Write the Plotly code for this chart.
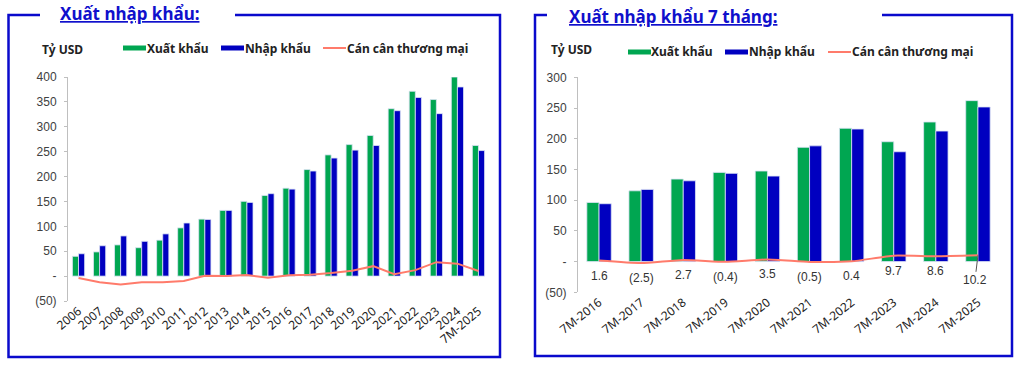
import plotly.graph_objects as go

W, H = 1024, 366
OFF = 0  # body margin removed via post_script

# ---------------- data ----------------
years = ["2006", "2007", "2008", "2009", "2010", "2011", "2012", "2013", "2014", "2015",
         "2016", "2017", "2018", "2019", "2020", "2021", "2022", "2023", "2024", "7M-2025"]
exports_y = [39.8, 48.6, 62.7, 57.1, 72.2, 96.9, 114.5, 132.0, 150.2, 162.0,
             176.6, 214.0, 243.5, 264.2, 282.6, 336.3, 371.3, 354.7, 400.0, 262.4]
imports_y = [44.9, 61.0, 80.7, 69.9, 84.8, 106.7, 113.8, 132.0, 148.0, 165.6,
             174.8, 211.1, 237.2, 253.1, 262.4, 332.3, 358.9, 326.4, 380.0, 252.2]
balance_y = [-4.0, -12.5, -17.0, -12.5, -12.5, -10.0, 0.7, 0.0, 2.0, -3.5,
             1.8, 2.9, 6.3, 11.0, 20.0, 4.0, 12.0, 28.0, 25.0, 10.2]

periods = ["7M-2016", "7M-2017", "7M-2018", "7M-2019", "7M-2020",
           "7M-2021", "7M-2022", "7M-2023", "7M-2024", "7M-2025"]
exports_7m = [96.2, 115.2, 134.3, 145.2, 147.4, 186.0, 217.0, 195.1, 227.2, 262.0]
imports_7m = [94.2, 117.5, 131.5, 143.6, 139.2, 188.4, 215.8, 178.8, 212.5, 251.7]
balance_7m = [1.6, -2.5, 2.7, -0.4, 3.5, -0.5, 0.4, 9.7, 8.6, 10.2]

left_ticks = [-50, 0, 50, 100, 150, 200, 250, 300, 350, 400]
right_ticks = [-50, 0, 50, 100, 150, 200, 250, 300]

series_names = ["Xuất khẩu", "Nhập khẩu", "Cán cân thương mại"]

GREEN = "#00A651"
BLUE = "#0000C0"
SALMON = "#FF7B6B"
FRAME = "#0A0ACC"
AXIS = "#BFBFBF"


def fmt(v):
    if v == 0:
        return "-"
    if v < 0:
        return "(%g)" % abs(v)
    return "%g" % v


def px(x):
    return (x - OFF) / W


def py(y):
    return 1 - (y - OFF) / H


# plot area geometry (screen pixels)
L = dict(x0=68, x1=489, top=77, bot=301, r=(-50, 400))
R = dict(x0=578, x1=999, top=77.3, bot=292.3, r=(-50, 300))


def zero_pos(g):
    lo, hi = g["r"]
    d0, d1 = py(g["bot"]), py(g["top"])
    return d0 + (0 - lo) / (hi - lo) * (d1 - d0)


fig = go.Figure()

bar_line = dict(color="#DCE3F5", width=0.8)

# left chart
fig.add_trace(go.Bar(x=years, y=exports_y, name=series_names[0], marker_color=GREEN,
                     marker_line=bar_line, xaxis="x", yaxis="y"))
fig.add_trace(go.Bar(x=years, y=imports_y, name=series_names[1], marker_color=BLUE,
                     marker_line=bar_line, xaxis="x", yaxis="y"))
fig.add_trace(go.Scatter(x=years, y=balance_y, mode="lines", name=series_names[2],
                         line=dict(color=SALMON, width=2), xaxis="x", yaxis="y"))

# right chart
fig.add_trace(go.Bar(x=periods, y=exports_7m, name=series_names[0], marker_color=GREEN,
                     marker_line=bar_line, xaxis="x2", yaxis="y2"))
fig.add_trace(go.Bar(x=periods, y=imports_7m, name=series_names[1], marker_color=BLUE,
                     marker_line=bar_line, xaxis="x2", yaxis="y2"))
fig.add_trace(go.Scatter(x=periods, y=balance_7m, mode="lines", name=series_names[2],
                         line=dict(color=SALMON, width=2, shape="spline", smoothing=0.5),
                         xaxis="x2", yaxis="y2"))

tickfont = dict(family="Liberation Sans, Arial, sans-serif", size=12, color="#404040")
xfont = dict(family="Noto Sans, Liberation Sans, sans-serif", size=12, color="#222222")

common_y = dict(showgrid=False, zeroline=False, showline=True, linecolor=AXIS, linewidth=1,
                ticks="outside", ticklen=3, tickcolor=AXIS, tickfont=tickfont,
                ticklabelstandoff=5, automargin=False)
common_x = dict(showgrid=False, zeroline=False, showline=False, ticks="",
                tickangle=-40, tickfont=xfont, type="category", automargin=False)

fig.update_layout(
    width=W, height=H,
    margin=dict(l=0, r=0, t=0, b=0, autoexpand=False),
    paper_bgcolor="white", plot_bgcolor="white",
    showlegend=False,
    barmode="group", bargap=0.42, bargroupgap=0.0,
    xaxis=dict(common_x, domain=[px(L["x0"]), px(L["x1"])], anchor="y",
               range=[-0.5, len(years) - 0.5]),
    yaxis=dict(common_y, domain=[py(L["bot"]), py(L["top"])], anchor="x",
               range=list(L["r"]), tickvals=left_ticks,
               ticktext=[fmt(v) for v in left_ticks]),
    xaxis2=dict(common_x, domain=[px(R["x0"]), px(R["x1"])], anchor="y2",
                range=[-0.5, len(periods) - 0.5], tickangle=-38),
    yaxis2=dict(common_y, domain=[py(R["bot"]), py(R["top"])], anchor="x2",
                range=list(R["r"]), tickvals=right_ticks,
                ticktext=[fmt(v) for v in right_ticks]),
    # zero-line axes with boundary ticks
    xaxis3=dict(overlaying="x", anchor="free", position=zero_pos(L), type="linear",
                range=[-0.5, len(years) - 0.5],
                tickvals=[i - 0.5 for i in range(len(years) + 1)],
                showticklabels=False, ticks="outside", ticklen=4, tickcolor=AXIS,
                showline=True, linecolor=AXIS, linewidth=1, showgrid=False, zeroline=False,
                automargin=False),
    xaxis4=dict(overlaying="x2", anchor="free", position=zero_pos(R), type="linear",
                range=[-0.5, len(periods) - 0.5],
                tickvals=[i - 0.5 for i in range(len(periods) + 1)],
                showticklabels=False, ticks="outside", ticklen=4, tickcolor=AXIS,
                showline=True, linecolor=AXIS, linewidth=1, showgrid=False, zeroline=False,
                automargin=False),
)

lab_font = dict(family="Liberation Sans, Arial, sans-serif", size=12, color="#333333")
# data labels on the right chart
for i, (p, v) in enumerate(zip(periods, balance_7m)):
    if i == len(periods) - 1:
        fig.add_annotation(x=p, y=v, xref="x2", yref="y2", text=fmt(v), showarrow=True,
                           arrowhead=0, arrowwidth=1, arrowcolor="#555555", ax=-3, ay=25,
                           font=lab_font)
    else:
        fig.add_annotation(x=p, y=v, xref="x2", yref="y2", text=fmt(v), showarrow=False,
                           yshift=-15, font=lab_font)

# titles and unit labels
title_font = dict(family="Noto Sans, sans-serif", size=17, color="#1010CC", weight="bold")
fig.add_annotation(x=px(58), y=py(13), xref="paper", yref="paper", xanchor="left",
                   yanchor="middle", text="<u>Xuất nhập khẩu:</u>", showarrow=False,
                   font=title_font)
fig.add_annotation(x=px(567), y=py(16), xref="paper", yref="paper", xanchor="left",
                   yanchor="middle", text="<u>Xuất nhập khẩu 7 tháng:</u>", showarrow=False,
                   font=title_font)
unit_font = dict(family="Noto Sans, sans-serif", size=12, color="#222222", weight="bold")
fig.add_annotation(x=px(40), y=py(49), xref="paper", yref="paper", xanchor="left",
                   yanchor="middle", text="Tỷ USD", showarrow=False, font=unit_font)
fig.add_annotation(x=px(549), y=py(49), xref="paper", yref="paper", xanchor="left",
                   yanchor="middle", text="Tỷ USD", showarrow=False, font=unit_font)

# legends (swatch + label), drawn in paper space
leg_font = dict(family="Noto Sans, sans-serif", size=12, color="#222222", weight="bold")
legend_specs = [
    [(123, 147, 48), (221, 245, 48), (323, 347, 48)],
    [(628, 651, 52), (725, 749, 52), (828, 852, 52)],
]
swatch_style = [(GREEN, 5), (BLUE, 5), (SALMON, 2)]
for spec in legend_specs:
    for (sx, tx, cy), name, (col, lw) in zip(spec, series_names, swatch_style):
        fig.add_shape(type="line", xref="paper", yref="paper",
                      x0=px(sx), x1=px(sx + 23), y0=py(cy), y1=py(cy),
                      line=dict(color=col, width=lw))
        fig.add_annotation(x=px(tx), y=py(cy), xref="paper", yref="paper",
                           xanchor="left", yanchor="middle", text=name,
                           showarrow=False, font=leg_font, xshift=-2)


# frames
def frame(xa, xb, xl, xr, top, bot):
    return dict(type="path", xref="paper", yref="paper",
                path="M %f %f L %f %f L %f %f L %f %f L %f %f L %f %f" % (
                    px(xa), py(top), px(xl), py(top), px(xl), py(bot),
                    px(xr), py(bot), px(xr), py(top), px(xb), py(top)),
                line=dict(color=FRAME, width=2.5))


fig.add_shape(frame(40, 235, 8.5, 500, 15, 357))
fig.add_shape(frame(547, 882, 535, 1012, 15, 356))

fig.write_html("out.html",
               config={"displayModeBar": False},
               post_script="document.body.style.margin='0px';"
                           "document.body.style.overflow='hidden';")
